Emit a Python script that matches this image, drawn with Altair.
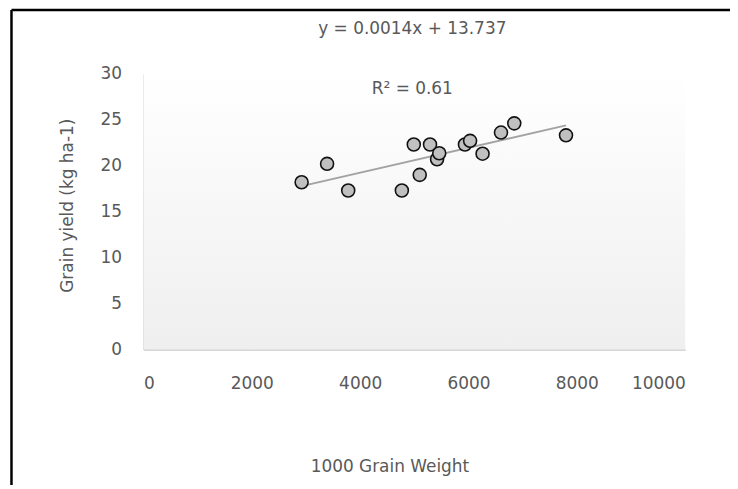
import altair as alt
import pandas as pd

# Data
grain_weight = [2920, 3390, 3780, 4770, 5100, 4990, 5290, 5420, 5460, 5935, 6030, 6260, 6600, 6845, 7800]
grain_yield = [18.2, 20.2, 17.3, 17.3, 19.0, 22.3, 22.3, 20.7, 21.35, 22.3, 22.7, 21.3, 23.6, 24.6, 23.3]
equation_text = ["y = 0.0014x + 13.737"]
r2_text = ["R² = 0.61"]
x_ticks = [0, 2000, 4000, 6000, 8000, 10000]
y_ticks = [0, 5, 10, 15, 20, 25, 30]

df = pd.DataFrame({"w": grain_weight, "y": grain_yield})
one = pd.DataFrame({"eq": equation_text, "r2": r2_text})

FONT = "DejaVu Sans"
FS = 17
W, H = 544, 277

xscale = alt.Scale(domain=[0, 10000], nice=False)
yscale = alt.Scale(domain=[0, 30], nice=False)

bg = alt.Chart(one).mark_rect(
    color=alt.LinearGradient(
        gradient="linear", x1=0, y1=0, x2=0, y2=1,
        stops=[alt.GradientStop(color="#ffffff", offset=0),
               alt.GradientStop(color="#efefef", offset=1)],
    )
).encode(
    x=alt.datum(0, scale=xscale),
    x2=alt.datum(10000),
    y=alt.datum(0, scale=yscale),
    y2=alt.datum(30),
)

trend = alt.Chart(df).transform_regression("w", "y").mark_line(
    color="#a3a3a3", strokeWidth=2
).encode(
    x=alt.X("w:Q", scale=xscale),
    y=alt.Y("y:Q", scale=yscale),
)

points = alt.Chart(df).mark_point(
    shape="circle", filled=True, fill="#c0c0c0", stroke="#111111",
    strokeWidth=1.6, size=170, opacity=1
).encode(
    x=alt.X("w:Q", scale=xscale, title="1000 Grain Weight",
            axis=alt.Axis(values=x_ticks, format="d", titleX=247, titleY=122,
                          titleBaseline="alphabetic", titleAlign="center")),
    y=alt.Y("y:Q", scale=yscale, title="Grain yield (kg ha-1)",
            axis=alt.Axis(values=y_ticks, format="d", titleX=-71, titleY=132,
                          titleBaseline="alphabetic", titleAlign="center")),
)

eq = alt.Chart(one).mark_text(
    font=FONT, fontSize=FS, color="#595959", fontWeight="normal",
    align="center", baseline="alphabetic"
).encode(text="eq:N", x=alt.value(270), y=alt.value(-40))

r2 = alt.Chart(one).mark_text(
    font=FONT, fontSize=FS, color="#595959", fontWeight="normal",
    align="center", baseline="alphabetic"
).encode(text="r2:N", x=alt.value(270), y=alt.value(20))

frame_left = alt.Chart(one).mark_rule(color="#000000", strokeWidth=2.5).encode(
    x=alt.value(-132.5), y=alt.value(-64), y2=alt.value(520)
)
frame_top = alt.Chart(one).mark_rule(color="#000000", strokeWidth=2.5).encode(
    x=alt.value(-132.5), x2=alt.value(620), y=alt.value(-64)
)

chart = alt.layer(bg, trend, points, eq, r2, frame_left, frame_top).properties(
    width=W, height=H,
    autosize=alt.AutoSizeParams(type="none"),
    padding={"left": 136, "top": 65, "right": 45, "bottom": 135},
).configure_view(strokeWidth=0).configure_axis(
    grid=False, ticks=False, domainColor="#c8c8c8", domainWidth=1.5,
    labelFont=FONT, labelFontSize=FS, labelColor="#595959",
    titleFont=FONT, titleFontSize=FS, titleColor="#595959", titleFontWeight="normal",
).configure_axisX(labelPadding=26).configure_axisY(labelPadding=22)

chart.save("out.html", embed_options={"renderer": "svg", "actions": False})
